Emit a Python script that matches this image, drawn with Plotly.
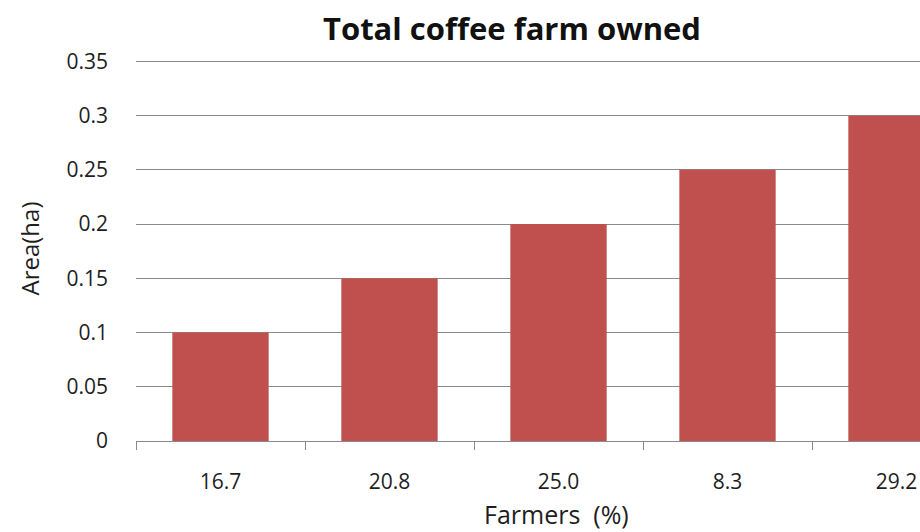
import plotly.graph_objects as go

# Farm size groups and the share of farmers in each
categories = ["16.7", "20.8", "25.0", "8.3", "29.2"]
area_ha = [0.1, 0.15, 0.2, 0.25, 0.3]
y_ticks = [0, 0.05, 0.1, 0.15, 0.2, 0.25, 0.3, 0.35]
y_tick_text = ["0", "0.05", "0.1", "0.15", "0.2", "0.25", "0.3", "0.35"]

FONT = "Open Sans, DejaVu Sans, sans-serif"
GRID = "#8a8a8a"
TEXT = "#1e1e1e"

fig = go.Figure(
    go.Bar(
        x=categories,
        y=area_ha,
        marker=dict(color="#C0504D", line=dict(width=0)),
        hoverinfo="skip",
    )
)

fig.update_layout(
    width=920,
    height=532,
    margin=dict(l=136, r=0, t=56, b=91),
    paper_bgcolor="white",
    plot_bgcolor="white",
    bargap=0.43,
    showlegend=False,
    font=dict(family=FONT, size=21, color=TEXT),
    title=dict(
        text="<b>Total coffee farm owned</b>",
        x=512 / 920,
        xanchor="center",
        y=1 - 29 / 532,
        yanchor="middle",
        font=dict(family=FONT, size=31, color="#111111"),
    ),
    annotations=[
        dict(
            text="Farmers  (%)",
            xref="paper", yref="paper",
            x=(556 - 136) / (920 - 136), y=-(514 - 441) / 385,
            xanchor="center", yanchor="middle",
            showarrow=False,
            font=dict(family=FONT, size=25, color=TEXT),
        )
    ],
)

fig.update_xaxes(
    type="category",
    range=[-0.5, -0.5 + (920 - 136) / 169],
    tickson="boundaries",
    showgrid=False,
    showline=True,
    linecolor=GRID,
    linewidth=1,
    ticks="outside",
    ticklen=8,
    tickcolor=GRID,
    ticklabelstandoff=22,
    tickfont=dict(size=21, color=TEXT),
    zeroline=False,
)

fig.update_yaxes(
    range=[0, 0.355],
    tickmode="array",
    tickvals=y_ticks,
    ticktext=y_tick_text,
    showgrid=True,
    gridcolor=GRID,
    gridwidth=1,
    showline=False,
    zeroline=False,
    ticks="",
    ticklabelstandoff=27,
    tickfont=dict(size=21, color=TEXT),
    title=dict(text="Area(ha)", font=dict(size=24, color=TEXT), standoff=20),
)

fig.write_html("out.html")
